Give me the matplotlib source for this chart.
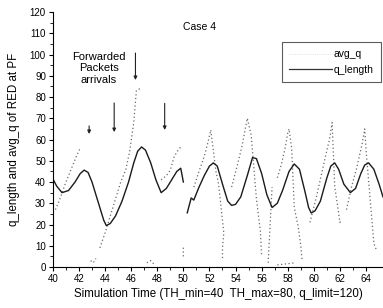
import numpy as np
import matplotlib
matplotlib.use("Agg")
import matplotlib.pyplot as plt
from matplotlib.lines import Line2D

plt.rcParams['font.family'] = ['Liberation Sans', 'DejaVu Sans']

nan = np.nan
# q_length (solid, smooth curve)
qlen_x = [40.0, 40.3, 40.7, 41.2, 41.7, 42.1, 42.4, 42.7, 43.0, 43.5, 43.9, 44.1, 44.4, 44.8, 45.3, 45.8, 46.2, 46.5, 46.8,
          47.1, 47.5, 47.9, 48.3, 48.7, 49.1, 49.5, 49.8, 50.0, nan,
          50.3, 50.6, 50.8, 51.2, 51.6, 52.0, 52.3, 52.6, 53.0, 53.4, 53.7, 54.0, 54.4, 54.9, 55.3, 55.6, 56.0, 56.4, 56.8,
          57.2, 57.6, 58.1, 58.5, 58.9, 59.3, 59.6, 59.8, 60.1, 60.5, 61.0, 61.3, 61.6, 61.9, 62.3, 62.8, 63.2, 63.6, 63.9, 64.2, 64.6, 65.0, 65.3]
qlen_y = [41.5, 38.0, 35.0, 36.0, 40.0, 44.0, 45.6, 44.5, 40.0, 30.0, 22.0, 19.5, 20.5, 24.0, 31.0, 40.0, 49.0, 54.5, 56.5,
          55.0, 49.0, 41.0, 35.0, 37.0, 41.0, 45.0, 46.5, 40.0, nan,
          25.5, 32.5, 31.5, 37.6, 43.0, 47.5, 49.0, 47.5, 39.0, 31.0, 29.0, 29.5, 33.0, 43.0, 51.5, 51.0, 44.0, 34.0, 28.0,
          30.0, 36.0, 45.0, 48.5, 46.0, 36.0, 28.0, 25.4, 26.5, 31.0, 42.0, 47.5, 49.0, 46.0, 39.0, 35.0, 37.0, 44.0, 48.0, 49.0, 46.0, 39.0, 33.0]

# avg_q (dotted sawtooth)
avg_x = [40.2, 40.6, 41.0, 41.4, 41.8, 42.1, nan,
         42.9, 43.1, 43.3, nan,
         43.6, 44.0, 44.4, 44.8, 45.2, 45.6, 45.9, 46.2, 46.4, 46.7, nan,
         46.8, nan,
         47.2, 47.5, 47.8, nan,
         48.3, 48.7, 49.0, 49.3, 49.6, 49.8, nan,
         50.0, 50.0, nan,
         50.8, 51.2, 51.6, 51.9, 52.1, 52.5, 52.7, 53.0, 53.1, 53.0, 53.0, nan,
         53.7, 54.1, 54.5, 54.9, 55.2, 55.6, 55.9, 56.0, nan,
         56.5, 56.8, nan,
         57.2, 57.5, 57.8, 58.0, 58.1, 58.3, 58.5, 58.8, 59.0, 59.1, nan,
         59.7, 60.2, 60.6, 61.0, 61.2, 61.4, 61.6, 62.0, 62.1, nan,
         62.5, 62.9, 63.3, 63.7, 63.9, 64.0, 64.6, 64.8, nan,
         57.2, 58.6]
avg_y = [27.0, 33.0, 40.0, 46.0, 52.0, 56.0, nan,
         3.0, 2.0, 4.0, nan,
         9.0, 16.0, 24.0, 32.0, 40.0, 46.0, 55.0, 68.0, 83.0, 84.0, nan,
         70.6, nan,
         2.0, 3.0, 1.0, nan,
         41.0, 43.0, 45.6, 52.0, 55.0, 56.5, nan,
         5.0, 10.0, nan,
         37.6, 45.0, 52.0, 59.0, 64.5, 45.0, 39.0, 22.0, 16.0, 9.0, 4.0, nan,
         37.6, 47.0, 57.0, 70.0, 62.0, 32.0, 17.0, 5.0, nan,
         2.0, 37.6, nan,
         42.0, 48.0, 56.0, 63.0, 65.0, 56.0, 28.0, 19.0, 10.0, 3.0, nan,
         21.0, 33.0, 44.0, 55.0, 60.0, 68.0, 38.0, 21.0, 22.0, nan,
         27.0, 38.0, 47.0, 58.0, 65.0, 55.0, 11.0, 8.0, nan,
         1.0, 2.0]

xticks = list(range(40, 65, 2))
yticks = list(range(0, 121, 10))

fig = plt.figure(figsize=(3.83, 3.08), dpi=100)
ax = fig.add_axes([0.138, 0.133, 0.862, 0.828])

ax.plot(avg_x, avg_y, linestyle=(0, (1, 2)), color='#6a6a6a', lw=0.9)
ax.plot(qlen_x, qlen_y, linestyle='-', color='#1a1a1a', lw=1.0)

ax.set_xlim(40, 65.3)
ax.set_ylim(0, 120)
ax.set_xticks(xticks)
ax.set_yticks(yticks)
ax.set_xticks(np.arange(41, 65, 2), minor=True)
ax.set_yticks(np.arange(5, 120, 10), minor=True)
ax.tick_params(axis='both', which='major', labelsize=7, length=3, width=0.8, direction='out', pad=2)
ax.tick_params(axis='both', which='minor', length=2, width=0.6, direction='out')
for s in ['top', 'right']:
    ax.spines[s].set_visible(False)
for s in ['left', 'bottom']:
    ax.spines[s].set_linewidth(0.8)

ax.set_xlabel('Simulation Time (TH_min=40  TH_max=80, q_limit=120)', fontsize=8.3, labelpad=3)
ax.set_ylabel('q_length and avg_q of RED at PF', fontsize=8.3, labelpad=7)

ax.text(51.2, 113, 'Case 4', fontsize=7.5, ha='center', va='center')
ax.text(43.5, 93.5, 'Forwarded\nPackets\narrivals', fontsize=8, ha='center', va='center', linespacing=1.2)

arrows = [(42.78, 66.4, 62.6), (44.7, 77.2, 63.5), (46.33, 100.7, 88.0), (48.57, 77.0, 64.5)]
for ax_x, y0, y1 in arrows:
    ax.annotate('', xy=(ax_x, y1), xytext=(ax_x, y0),
                arrowprops=dict(arrowstyle='-|>', color='#222222', lw=0.8,
                                mutation_scale=5, shrinkA=0, shrinkB=0))

handles = [Line2D([], [], linestyle=':', color='#cccccc', lw=0.5),
           Line2D([], [], linestyle='-', color='#333333', lw=0.9)]
leg = ax.legend(handles, ['avg_q', 'q_length'], loc='upper right',
                bbox_to_anchor=(0.994, 0.882), fontsize=7.5, frameon=True,
                fancybox=False, edgecolor='#333333', handlelength=4.1,
                borderpad=0.7, labelspacing=0.5, handletextpad=0.2, borderaxespad=0)
leg.get_frame().set_linewidth(0.8)

fig.savefig('out.png', dpi=100)
